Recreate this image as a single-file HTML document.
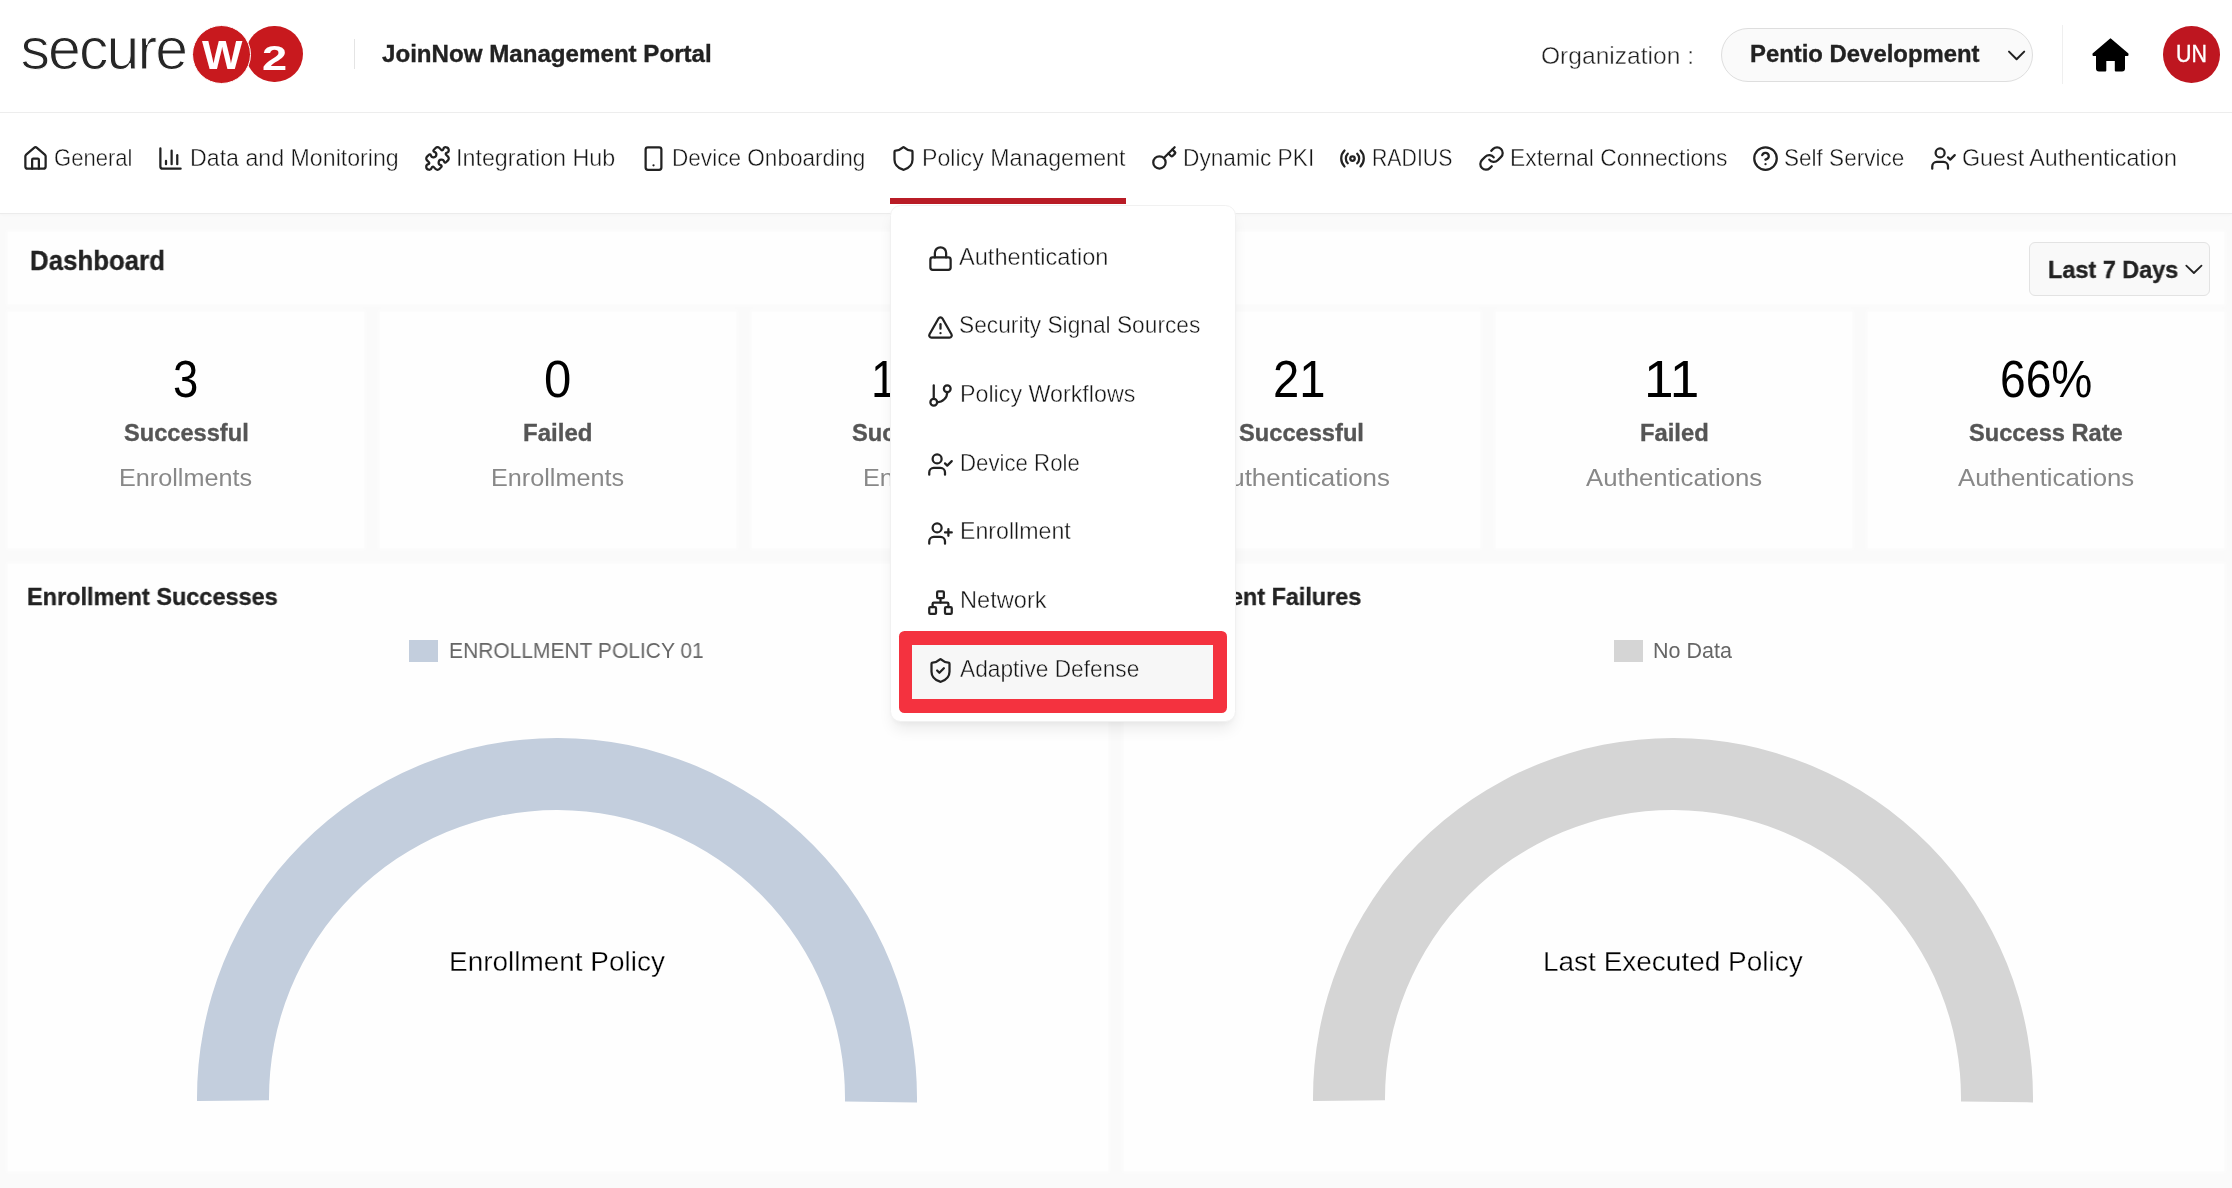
<!DOCTYPE html>
<html lang="en"><head><meta charset="utf-8"><title>JoinNow Management Portal</title>
<style>
html,body{margin:0;padding:0}
body{width:2232px;height:1188px;overflow:hidden;background:#fafafa;position:relative;font-family:"Liberation Sans",sans-serif}
.t{position:absolute;white-space:pre;line-height:1;transform-origin:0 50%;font-family:"Liberation Sans",sans-serif}
.i{position:absolute;overflow:visible}
.b{position:absolute;box-sizing:border-box}
#root{position:absolute;left:0;top:0;width:2232px;height:1188px;will-change:transform}
.card{background:#fefefe;box-shadow:0 0 4px 2px rgba(255,255,255,.5)}
</style></head><body><div id="root">
<!-- header -->
<div class="b" style="left:0px;top:0px;width:2232px;height:112px;background:#fff"></div>
<div class="b" style="left:0px;top:112px;width:2232px;height:1px;background:#ededed"></div>
<div class="b" style="left:0px;top:113px;width:2232px;height:100px;background:#fff;box-shadow:0 1px 0 #ececec,0 2px 3px rgba(0,0,0,.025)"></div>
<!-- logo -->
<span class="t" id="secure" style="left:20.5px;top:19.6px;font-size:59px;color:#262626;letter-spacing:-1.9px;-webkit-text-stroke:1.1px #fff">secure</span><div class="b" style="left:246.2px;top:26.1px;width:56.4px;height:56.4px;background:#c8191e;border-radius:50%"></div>
<div class="b" style="left:191.8px;top:24.7px;width:59.4px;height:59.4px;background:#c8191e;border-radius:50%;border:1.5px solid #fff"></div>
<span class="t" id="lw" style="left:202.4px;top:35.3px;font-size:40px;font-weight:700;color:#fff;transform:scaleX(1.07)">W</span><span class="t" id="l2" style="left:262.4px;top:39.87px;font-size:35px;font-weight:700;color:#fff;transform:scaleX(1.29)">2</span><div class="b" style="left:354px;top:39px;width:1px;height:30px;background:#e4e4e4"></div>
<div class="b" style="left:1721px;top:28px;width:312px;height:53.6px;background:#fafafa;border:1px solid #dedede;border-radius:27px"></div>
<svg class="i" style="left:2004px;top:44px" width="26" height="22" viewBox="0 0 26 22" fill="none" stroke="#222" stroke-width="2" stroke-linecap="round" stroke-linejoin="round"><path d="M5 7.6 12.6 15.3 20.2 7.6"/></svg><div class="b" style="left:2062px;top:25px;width:1px;height:59px;background:#efefef"></div>
<svg class="i" style="left:2092px;top:37.5px" width="38" height="34" viewBox="0 0 38 34" fill="#000" stroke="#000" stroke-width="2" stroke-linejoin="round"><path d="M18.5 1.4 1.5 16v1H5v13.5q0 2 2 2h6.3V23q0-1 1-1h8.5q1 0 1 1v9.5H30q2 0 2-2V17h3.5v-1z"/></svg><div class="b" style="left:2163.3px;top:26px;width:56.7px;height:56.7px;background:#be1620;border-radius:50%"></div>
<!-- nav -->
<svg class="i" style="left:21.5px;top:144.5px" width="27" height="27" viewBox="0 0 24 24" fill="none" stroke="#222" stroke-width="2" stroke-linecap="round" stroke-linejoin="round"><path d="M15 21v-8a1 1 0 0 0-1-1h-4a1 1 0 0 0-1 1v8"/><path d="M3 10a2 2 0 0 1 .709-1.528l7-5.999a2 2 0 0 1 2.582 0l7 5.999A2 2 0 0 1 21 10v9a2 2 0 0 1-2 2H5a2 2 0 0 1-2-2z"/></svg><svg class="i" style="left:156.75px;top:144.5px" width="27" height="27" viewBox="0 0 24 24" fill="none" stroke="#222" stroke-width="2" stroke-linecap="round" stroke-linejoin="round"><path d="M3 3v16a2 2 0 0 0 2 2h16"/><path d="M18 17V9"/><path d="M13 17V5"/><path d="M8 17v-3"/></svg><svg class="i" style="left:423.5px;top:144.5px" width="27" height="27" viewBox="0 0 24 24" fill="none" stroke="#222" stroke-width="2" stroke-linecap="round" stroke-linejoin="round"><path d="M15.39 4.39a1 1 0 0 0 1.68-.474 2.5 2.5 0 1 1 3.014 3.015 1 1 0 0 0-.474 1.68l1.683 1.682a2.414 2.414 0 0 1 0 3.414L19.61 15.39a1 1 0 0 1-1.68-.474 2.5 2.5 0 1 0-3.014 3.015 1 1 0 0 1 .474 1.68l-1.683 1.682a2.414 2.414 0 0 1-3.414 0L8.61 19.61a1 1 0 0 0-1.68.474 2.5 2.5 0 1 1-3.014-3.015 1 1 0 0 0 .474-1.68l-1.683-1.682a2.414 2.414 0 0 1 0-3.414L4.39 8.61a1 1 0 0 1 1.68.474 2.5 2.5 0 1 0 3.014-3.015 1 1 0 0 1-.474-1.68l1.683-1.682a2.414 2.414 0 0 1 3.414 0z"/></svg><svg class="i" style="left:639.75px;top:144.5px" width="27" height="27" viewBox="0 0 24 24" fill="none" stroke="#222" stroke-width="2" stroke-linecap="round" stroke-linejoin="round"><rect width="14" height="20" x="5" y="2" rx="2" ry="2"/><path d="M12 18h.01"/></svg><svg class="i" style="left:889.6px;top:144.5px" width="27" height="27" viewBox="0 0 24 24" fill="none" stroke="#222" stroke-width="2" stroke-linecap="round" stroke-linejoin="round"><path d="M20 13c0 5-3.5 7.5-7.66 8.95a1 1 0 0 1-.67-.01C7.5 20.5 4 18 4 13V6a1 1 0 0 1 1-1c2 0 4.5-1.2 6.24-2.72a1.17 1.17 0 0 1 1.52 0C14.51 3.81 17 5 19 5a1 1 0 0 1 1 1z"/></svg><svg class="i" style="left:1150.8px;top:144.5px" width="27" height="27" viewBox="0 0 24 24" fill="none" stroke="#222" stroke-width="2" stroke-linecap="round" stroke-linejoin="round"><path d="m15.5 7.5 2.3 2.3a1 1 0 0 0 1.4 0l2.1-2.1a1 1 0 0 0 0-1.4L19 4"/><path d="m21 2-9.6 9.6"/><circle cx="7.5" cy="15.5" r="5.5"/></svg><svg class="i" style="left:1339.2px;top:144.5px" width="27" height="27" viewBox="0 0 24 24" fill="none" stroke="#222" stroke-width="2" stroke-linecap="round" stroke-linejoin="round"><path d="M4.9 19.1C1 15.2 1 8.8 4.9 4.9"/><path d="M7.8 16.2c-2.3-2.3-2.3-6.1 0-8.5"/><circle cx="12" cy="12" r="2"/><path d="M16.2 7.8c2.3 2.3 2.3 6.1 0 8.5"/><path d="M19.1 4.9C23 8.8 23 15.1 19.1 19"/></svg><svg class="i" style="left:1477.6px;top:144.5px" width="27" height="27" viewBox="0 0 24 24" fill="none" stroke="#222" stroke-width="2" stroke-linecap="round" stroke-linejoin="round"><path d="M10 13a5 5 0 0 0 7.54.54l3-3a5 5 0 0 0-7.07-7.07l-1.72 1.71"/><path d="M14 11a5 5 0 0 0-7.54-.54l-3 3a5 5 0 0 0 7.07 7.07l1.71-1.71"/></svg><svg class="i" style="left:1752.3px;top:144.5px" width="27" height="27" viewBox="0 0 24 24" fill="none" stroke="#222" stroke-width="2" stroke-linecap="round" stroke-linejoin="round"><circle cx="12" cy="12" r="10"/><path d="M9.09 9a3 3 0 0 1 5.83 1c0 2-3 3-3 3"/><path d="M12 17h.01"/></svg><svg class="i" style="left:1930.2px;top:144.5px" width="27" height="27" viewBox="0 0 24 24" fill="none" stroke="#222" stroke-width="2" stroke-linecap="round" stroke-linejoin="round"><path d="M16 21v-2a4 4 0 0 0-4-4H6a4 4 0 0 0-4 4v2"/><circle cx="9" cy="7" r="4"/><polyline points="16 11 18 13 22 9"/></svg><div class="b" style="left:890px;top:198px;width:236px;height:6px;background:#b91c26"></div>
<!-- dashboard -->
<div class="b card" style="left:8px;top:232px;width:2216px;height:72px;"></div>
<div class="b" style="left:2029.2px;top:242px;width:180.6px;height:53.8px;background:#f9f9f9;border:1px solid #e3e3e3;border-radius:6px"></div>
<svg class="i" style="left:2182px;top:260px" width="24" height="18" viewBox="0 0 24 18" fill="none" stroke="#222" stroke-width="1.8" stroke-linecap="round" stroke-linejoin="round"><path d="M4.3 5.6 11.9 13 19.5 5.6"/></svg><div class="b card" style="left:8px;top:312px;width:356px;height:236px;"></div>
<div class="b card" style="left:380px;top:312px;width:356px;height:236px;"></div>
<div class="b card" style="left:752px;top:312px;width:356px;height:236px;"></div>
<div class="b card" style="left:1124px;top:312px;width:356px;height:236px;"></div>
<div class="b card" style="left:1496px;top:312px;width:356px;height:236px;"></div>
<div class="b card" style="left:1868px;top:312px;width:356px;height:236px;"></div>
<div class="b card" style="left:8px;top:564px;width:1100px;height:607px;"></div>
<div class="b card" style="left:1124px;top:564px;width:1100px;height:607px;"></div>
<div class="b" style="left:409px;top:640px;width:29px;height:21.5px;background:#c3cedd"></div>
<div class="b" style="left:1614px;top:640px;width:28.5px;height:21.5px;background:#d5d5d5"></div>
<svg class="i" style="left:193.2px;top:733.5px" width="728" height="372" viewBox="193.2 733.5 728 372"><path fill="#c3cedd" d="M197.212 1100.380A360 360 0 1 1 917.173 1101.892L845.179 1101.014A288 288 0 1 0 269.209 1099.804Z"/></svg><svg class="i" style="left:1309.2px;top:733.5px" width="728" height="372" viewBox="1309.2 733.5 728 372"><path fill="#d5d5d5" d="M1313.212 1100.380A360 360 0 1 1 2033.173 1101.892L1961.179 1101.014A288 288 0 1 0 1385.209 1099.804Z"/></svg>
<!-- text -->
<span class="t" style="left:382.00px;top:41.91px;font-size:24.8px;color:#222;transform:scaleX(0.9728);font-weight:700;-webkit-text-stroke:.35px #222;">JoinNow Management Portal</span>
<span class="t" style="left:1540.62px;top:43.81px;font-size:24.8px;color:#222;transform:scaleX(0.9911);-webkit-text-stroke:.4px #fff;">Organization :</span>
<span class="t" style="left:1749.80px;top:42.21px;font-size:24.8px;color:#222;transform:scaleX(0.9629);font-weight:700;-webkit-text-stroke:.35px #222;">Pentio Development</span>
<span class="t" style="left:2175.95px;top:43.02px;font-size:23.25px;color:#fff;transform:scaleX(0.9211);-webkit-text-stroke:.35px #fff;">UN</span>
<span class="t" style="left:54.14px;top:147.17px;font-size:23.25px;color:#151515;transform:scaleX(0.9480);-webkit-text-stroke:.4px #fff;">General</span>
<span class="t" style="left:189.85px;top:147.17px;font-size:23.25px;color:#151515;transform:scaleX(0.9971);-webkit-text-stroke:.4px #fff;">Data and Monitoring</span>
<span class="t" style="left:455.78px;top:147.17px;font-size:23.25px;color:#151515;transform:scaleX(1.0018);-webkit-text-stroke:.4px #fff;">Integration Hub</span>
<span class="t" style="left:671.85px;top:147.17px;font-size:23.25px;color:#151515;transform:scaleX(0.9710);-webkit-text-stroke:.4px #fff;">Device Onboarding</span>
<span class="t" style="left:922.35px;top:147.17px;font-size:23.25px;color:#151515;transform:scaleX(0.9962);-webkit-text-stroke:.4px #fff;">Policy Management</span>
<span class="t" style="left:1182.92px;top:147.17px;font-size:23.25px;color:#151515;transform:scaleX(0.9763);-webkit-text-stroke:.4px #fff;">Dynamic PKI</span>
<span class="t" style="left:1372.35px;top:147.17px;font-size:23.25px;color:#151515;transform:scaleX(0.9144);-webkit-text-stroke:.4px #fff;">RADIUS</span>
<span class="t" style="left:1509.85px;top:147.17px;font-size:23.25px;color:#151515;transform:scaleX(0.9834);-webkit-text-stroke:.4px #fff;">External Connections</span>
<span class="t" style="left:1784.35px;top:147.17px;font-size:23.25px;color:#151515;transform:scaleX(0.9695);-webkit-text-stroke:.4px #fff;">Self Service</span>
<span class="t" style="left:1962.21px;top:147.17px;font-size:23.25px;color:#151515;transform:scaleX(1.0016);-webkit-text-stroke:.4px #fff;">Guest Authentication</span>
<span class="t" style="left:29.85px;top:246.98px;font-size:27.9px;color:#222;transform:scaleX(0.9262);font-weight:700;-webkit-text-stroke:.35px #222;">Dashboard</span>
<span class="t" style="left:2047.61px;top:257.51px;font-size:24.8px;color:#222;transform:scaleX(0.9449);font-weight:700;-webkit-text-stroke:.35px #222;">Last 7 Days</span>
<span class="t" style="left:173.28px;top:354.46px;font-size:51.2px;color:#000;transform:scaleX(0.8889);">3</span>
<span class="t" style="left:544.28px;top:354.46px;font-size:51.2px;color:#000;transform:scaleX(0.9592);">0</span>
<span class="t" style="left:871.40px;top:354.46px;font-size:51.2px;color:#000;transform:scaleX(0.8945);">100%</span>
<span class="t" style="left:1273.28px;top:354.46px;font-size:51.2px;color:#000;transform:scaleX(0.9215);">21</span>
<span class="t" style="left:1644.20px;top:354.46px;font-size:51.2px;color:#000;transform:scaleX(1.0391);">11</span>
<span class="t" style="left:1999.76px;top:354.46px;font-size:51.2px;color:#000;transform:scaleX(0.9009);">66%</span>
<span class="t" style="left:123.62px;top:420.51px;font-size:24.8px;color:#555;transform:scaleX(0.9526);font-weight:700;-webkit-text-stroke:.35px #555;">Successful</span>
<span class="t" style="left:523.28px;top:420.51px;font-size:24.8px;color:#555;transform:scaleX(0.9690);font-weight:700;-webkit-text-stroke:.35px #555;">Failed</span>
<span class="t" style="left:852.40px;top:420.51px;font-size:24.8px;color:#555;transform:scaleX(0.9555);font-weight:700;-webkit-text-stroke:.35px #555;">Success Rate</span>
<span class="t" style="left:1239.10px;top:420.51px;font-size:24.8px;color:#555;transform:scaleX(0.9539);font-weight:700;-webkit-text-stroke:.35px #555;">Successful</span>
<span class="t" style="left:1639.64px;top:420.51px;font-size:24.8px;color:#555;transform:scaleX(0.9594);font-weight:700;-webkit-text-stroke:.35px #555;">Failed</span>
<span class="t" style="left:1968.80px;top:420.51px;font-size:24.8px;color:#555;transform:scaleX(0.9531);font-weight:700;-webkit-text-stroke:.35px #555;">Success Rate</span>
<span class="t" style="left:119.26px;top:465.71px;font-size:24.8px;color:#888;transform:scaleX(1.0164);">Enrollments</span>
<span class="t" style="left:490.76px;top:465.71px;font-size:24.8px;color:#888;transform:scaleX(1.0164);">Enrollments</span>
<span class="t" style="left:862.90px;top:465.71px;font-size:24.8px;color:#888;transform:scaleX(1.0165);">Enrollments</span>
<span class="t" style="left:1213.10px;top:465.71px;font-size:24.8px;color:#888;transform:scaleX(1.0433);">Authentications</span>
<span class="t" style="left:1586.00px;top:465.71px;font-size:24.8px;color:#888;transform:scaleX(1.0391);">Authentications</span>
<span class="t" style="left:1958.34px;top:465.71px;font-size:24.8px;color:#888;transform:scaleX(1.0392);">Authentications</span>
<span class="t" style="left:27.11px;top:585.11px;font-size:24.8px;color:#222;transform:scaleX(0.9476);font-weight:700;-webkit-text-stroke:.35px #222;">Enrollment Successes</span>
<span class="t" style="left:1143.30px;top:585.11px;font-size:24.8px;color:#222;transform:scaleX(0.9426);font-weight:700;-webkit-text-stroke:.35px #222;">Enrollment Failures</span>
<span class="t" style="left:448.71px;top:639.95px;font-size:21.2px;color:#666;transform:scaleX(0.9907);">ENROLLMENT POLICY 01</span>
<span class="t" style="left:1653.26px;top:639.95px;font-size:21.2px;color:#666;transform:scaleX(1.0144);">No Data</span>
<span class="t" style="left:448.71px;top:949.04px;font-size:27px;color:#000;transform:scaleX(1.0351);-webkit-text-stroke:.3px #fefefe;">Enrollment Policy</span>
<span class="t" style="left:1542.86px;top:949.04px;font-size:27px;color:#000;transform:scaleX(1.0361);-webkit-text-stroke:.3px #fefefe;">Last Executed Policy</span>
<!-- dropdown -->
<div class="b" style="left:890.3px;top:204.5px;width:345.9px;height:517.5px;background:#fff;border-radius:10.5px;border:1px solid #f1f1f1;box-shadow:0 10px 15px -3px rgba(0,0,0,.08),0 4px 6px -2px rgba(0,0,0,.04)"></div>
<div class="b" style="left:899px;top:630.8px;width:328px;height:82.1px;background:#f4323f;border-radius:5.5px"></div>
<div class="b" style="left:912.4px;top:644.8px;width:301.1px;height:54.3px;background:#f7f7f7"></div>
<svg class="i" style="left:926.75px;top:245.0px" width="27" height="27" viewBox="0 0 24 24" fill="none" stroke="#222" stroke-width="2" stroke-linecap="round" stroke-linejoin="round"><rect width="18" height="11" x="3" y="11" rx="2" ry="2"/><path d="M7 11V7a5 5 0 0 1 10 0v4"/></svg><svg class="i" style="left:926.75px;top:313.7px" width="27" height="27" viewBox="0 0 24 24" fill="none" stroke="#222" stroke-width="2" stroke-linecap="round" stroke-linejoin="round"><path d="m21.73 18-8-14a2 2 0 0 0-3.48 0l-8 14A2 2 0 0 0 4 21h16a2 2 0 0 0 1.73-3"/><path d="M12 9v4"/><path d="M12 17h.01"/></svg><svg class="i" style="left:926.75px;top:382.4px" width="27" height="27" viewBox="0 0 24 24" fill="none" stroke="#222" stroke-width="2" stroke-linecap="round" stroke-linejoin="round"><line x1="6" x2="6" y1="3" y2="15"/><circle cx="18" cy="6" r="3"/><circle cx="6" cy="18" r="3"/><path d="M18 9a9 9 0 0 1-9 9"/></svg><svg class="i" style="left:926.75px;top:451.1px" width="27" height="27" viewBox="0 0 24 24" fill="none" stroke="#222" stroke-width="2" stroke-linecap="round" stroke-linejoin="round"><path d="M16 21v-2a4 4 0 0 0-4-4H6a4 4 0 0 0-4 4v2"/><circle cx="9" cy="7" r="4"/><polyline points="16 11 18 13 22 9"/></svg><svg class="i" style="left:926.75px;top:519.8px" width="27" height="27" viewBox="0 0 24 24" fill="none" stroke="#222" stroke-width="2" stroke-linecap="round" stroke-linejoin="round"><path d="M16 21v-2a4 4 0 0 0-4-4H6a4 4 0 0 0-4 4v2"/><circle cx="9" cy="7" r="4"/><line x1="19" x2="19" y1="8" y2="14"/><line x1="22" x2="16" y1="11" y2="11"/></svg><svg class="i" style="left:926.75px;top:588.5px" width="27" height="27" viewBox="0 0 24 24" fill="none" stroke="#222" stroke-width="2" stroke-linecap="round" stroke-linejoin="round"><rect x="16" y="16" width="6" height="6" rx="1"/><rect x="2" y="16" width="6" height="6" rx="1"/><rect x="9" y="2" width="6" height="6" rx="1"/><path d="M5 16v-3a1 1 0 0 1 1-1h12a1 1 0 0 1 1 1v3"/><path d="M12 12V8"/></svg><svg class="i" style="left:926.75px;top:657.2px" width="27" height="27" viewBox="0 0 24 24" fill="none" stroke="#222" stroke-width="2" stroke-linecap="round" stroke-linejoin="round"><path d="M20 13c0 5-3.5 7.5-7.66 8.95a1 1 0 0 1-.67-.01C7.5 20.5 4 18 4 13V6a1 1 0 0 1 1-1c2 0 4.5-1.2 6.24-2.72a1.17 1.17 0 0 1 1.52 0C14.51 3.81 17 5 19 5a1 1 0 0 1 1 1z"/><path d="m9 12 2 2 4-4"/></svg><span class="t" style="left:959.30px;top:246.32px;font-size:23.25px;color:#151515;transform:scaleX(1.0145);-webkit-text-stroke:.4px #fff;">Authentication</span>
<span class="t" style="left:958.94px;top:313.62px;font-size:23.25px;color:#151515;transform:scaleX(0.9778);-webkit-text-stroke:.4px #fff;">Security Signal Sources</span>
<span class="t" style="left:959.78px;top:382.72px;font-size:23.25px;color:#151515;transform:scaleX(1.0003);-webkit-text-stroke:.4px #fff;">Policy Workflows</span>
<span class="t" style="left:959.78px;top:451.82px;font-size:23.25px;color:#151515;transform:scaleX(0.9561);-webkit-text-stroke:.4px #fff;">Device Role</span>
<span class="t" style="left:959.78px;top:520.02px;font-size:23.25px;color:#151515;transform:scaleX(0.9971);-webkit-text-stroke:.4px #fff;">Enrollment</span>
<span class="t" style="left:959.78px;top:588.52px;font-size:23.25px;color:#151515;transform:scaleX(1.0155);-webkit-text-stroke:.4px #fff;">Network</span>
<span class="t" style="left:959.64px;top:657.72px;font-size:23.25px;color:#151515;transform:scaleX(0.9769);-webkit-text-stroke:.4px #f7f7f7;">Adaptive Defense</span>
</div></body></html>
